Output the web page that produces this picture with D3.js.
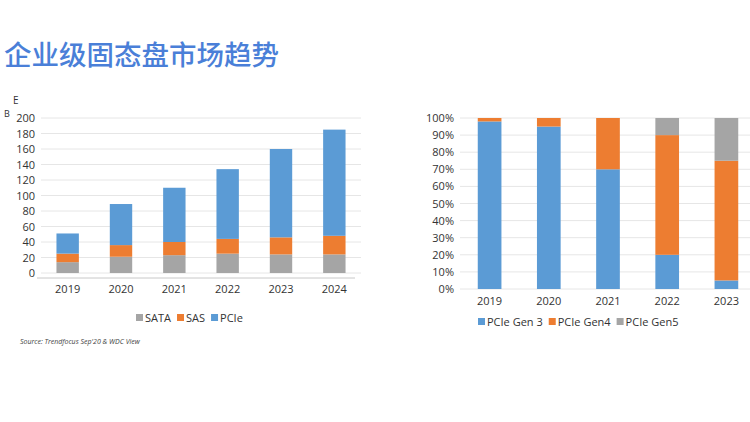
<!DOCTYPE html>
<html><head><meta charset="utf-8">
<script src="https://cdn.jsdelivr.net/npm/d3@7"></script>
<style>body{margin:0;background:#fff}text{font-family:"Open Sans",sans-serif}</style>
</head><body><svg width="750" height="422"></svg>
<script>
const years1 = ['2019','2020','2021','2022','2023','2024']
const sata = [14, 21, 23, 25, 24, 24]
const sas = [11, 15, 17, 19, 22, 24]
const pcie = [26, 53, 70, 90, 114, 137]
const ticks1 = [0,20,40,60,80,100,120,140,160,180,200]

const years2 = ['2019','2020','2021','2022','2023']
const gen3 = [98, 95, 70, 20, 5]
const gen4 = [2, 5, 30, 70, 70]
const gen5 = [0, 0, 0, 10, 25]
const ticks2 = [0,10,20,30,40,50,60,70,80,90,100]

const BLUE = '#5b9bd5', ORANGE = '#ed7d31', GRAY = '#a5a5a5'
const svg = d3.select('svg')

svg.append('text').attr('x', 4).attr('y', 65).attr('fill', '#4a7fd8').attr('font-weight', 500)
  .attr('font-size', 27.5).style('font-family', '"Noto Sans CJK SC"').text('企业级固态盘市场趋势')

function stacked(series, colors, cats, x0, x1, y0, y1, ticks, fmt, band) {
  const x = d3.scaleBand().domain(cats).range([x0, x1]).paddingInner(band).paddingOuter(band / 2)
  const y = d3.scaleLinear().domain([0, ticks[ticks.length - 1]]).range([y0, y1])
  const g = svg.append('g')
  g.selectAll('.grid').data(ticks).enter().append('line')
    .attr('x1', x0).attr('x2', x1).attr('y1', d => y(d)).attr('y2', d => y(d))
    .attr('stroke', '#e6e6e6')
  g.selectAll('.yl').data(ticks).enter().append('text')
    .attr('x', x0 - 6).attr('y', d => y(d) + 4).attr('text-anchor', 'end')
    .attr('font-size', 11).attr('fill', '#333').text(fmt)
  const stack = d3.stack().keys(series.map((s, i) => i))(cats.map((c, j) => series.map(s => s[j])))
  stack.forEach((layer, i) => {
    g.selectAll('.b' + i).data(layer).enter().append('rect')
      .attr('x', (d, j) => x(cats[j])).attr('width', x.bandwidth())
      .attr('y', d => y(d[1])).attr('height', d => y(d[0]) - y(d[1]))
      .attr('fill', colors[i])
  })
  return {g, x, y}
}

// left chart
const L = stacked([sata, sas, pcie], [GRAY, ORANGE, BLUE], years1, 41, 361, 273, 118, ticks1, d => d, 0.58)
L.g.append('line').attr('x1', 37).attr('x2', 355).attr('y1', 278).attr('y2', 278).attr('stroke', '#c8c8c8')
L.g.selectAll('.xl').data(years1).enter().append('text')
  .attr('x', d => L.x(d) + L.x.bandwidth() / 2).attr('y', 293).attr('text-anchor', 'middle')
  .attr('font-size', 11).attr('fill', '#333').text(d => d)
// axis unit "EB", split over two lines as in the original
svg.append('text').attr('x', 13).attr('y', 104).attr('font-size', 10).attr('fill', '#333').text('E')
svg.append('text').attr('x', 4).attr('y', 117).attr('font-size', 9).attr('fill', '#333').text('B')

const leg1 = [['SATA', GRAY], ['SAS', ORANGE], ['PCIe', BLUE]]
let lx = 136
leg1.forEach(([t, c]) => {
  svg.append('rect').attr('x', lx).attr('y', 314).attr('width', 7).attr('height', 7).attr('fill', c)
  const tx = svg.append('text').attr('x', lx + 9).attr('y', 322).attr('font-size', 11).attr('fill', '#333').text(t)
  lx += 9 + tx.node().getComputedTextLength() + 6
})
svg.append('text').attr('x', 20).attr('y', 344).attr('font-size', 7).attr('font-style', 'italic')
  .attr('fill', '#444').text("Source: Trendfocus Sep'20 & WDC View")

// right chart
const R = stacked([gen3, gen4, gen5], [BLUE, ORANGE, GRAY], years2, 460, 756, 289, 118, ticks2, d => d + '%', 0.6)
R.g.selectAll('.xl').data(years2).enter().append('text')
  .attr('x', d => R.x(d) + R.x.bandwidth() / 2).attr('y', 305).attr('text-anchor', 'middle')
  .attr('font-size', 11).attr('fill', '#333').text(d => d)
const leg2 = [['PCIe Gen 3', BLUE], ['PCIe Gen4', ORANGE], ['PCIe Gen5', GRAY]]
lx = 478
leg2.forEach(([t, c]) => {
  svg.append('rect').attr('x', lx).attr('y', 318).attr('width', 7).attr('height', 7).attr('fill', c)
  const tx = svg.append('text').attr('x', lx + 9).attr('y', 326).attr('font-size', 11).attr('fill', '#333').text(t)
  lx += 9 + tx.node().getComputedTextLength() + 6
})
</script></body></html>
